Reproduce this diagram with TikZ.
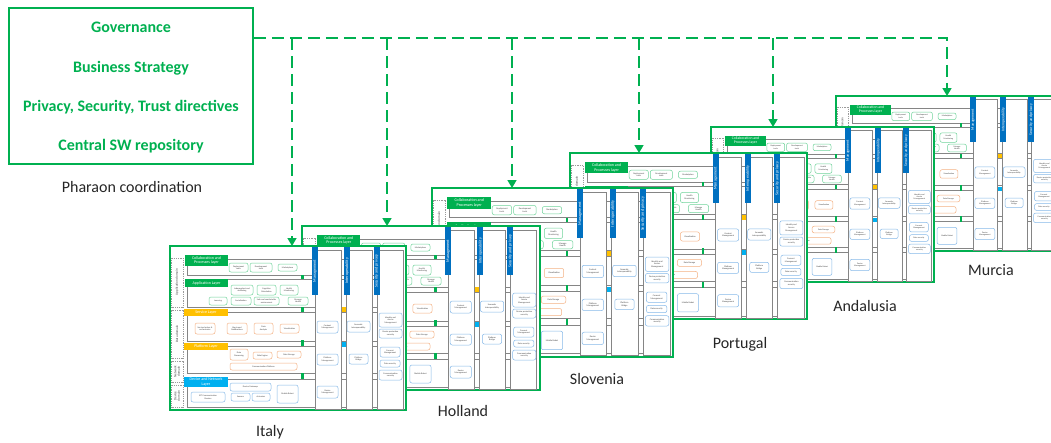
\documentclass[tikz,border=0pt]{standalone}
\usepackage{fontspec}
\setmainfont{Carlito}
\usetikzlibrary{arrows.meta}

\definecolor{pgreen}{HTML}{00B050}
\definecolor{tagorange}{HTML}{FFC000}
\definecolor{tagblue}{HTML}{00B0F0}
\definecolor{barblue}{HTML}{0070C0}
\definecolor{pillgreen}{HTML}{6FD39A}
\definecolor{pillorange}{HTML}{F4B183}
\definecolor{pillblue}{HTML}{86B9E8}
\definecolor{rowgrey}{HTML}{858585}
\definecolor{dashgrey}{HTML}{9A9A9A}
\definecolor{txtgrey}{HTML}{404040}
\definecolor{captxt}{HTML}{262626}

% box given by its two corners: style, name, x1, y1, x2, y2, text
\newcommand{\pn}[7]{\node[#1,minimum width={(#5-#3)*1pt},minimum height={(#6-#4)*1pt}] (#2) at ({(#3+#5)/2},{(#4+#6)/2}) {#7};}

\tikzset{
  panelframe/.style={draw=pgreen, line width=1.6pt, fill=white, inner sep=0pt, outer sep=0pt},
  dombox/.style={draw=dashgrey, dash pattern=on 1pt off 0.8pt, line width=0.35pt, inner sep=0pt},
  domlabel/.style={font=\fontsize{3.3}{3.7}\selectfont, text=txtgrey, align=center, inner sep=0pt},
  layerbox/.style={draw=rowgrey, line width=0.8pt, fill=white, inner sep=0pt},
  tag/.style={inner sep=0pt, align=center, text=white, font=\fontsize{4}{4.5}\selectfont},
  gtag/.style={tag, fill=pgreen},
  otag/.style={tag, fill=tagorange},
  btag/.style={tag, fill=tagblue},
  colbox/.style={draw=rowgrey, line width=0.8pt, fill=white, inner sep=0pt},
  colbar/.style={fill=barblue, inner sep=0pt},
  bartext/.style={font=\fontsize{4.1}{4.5}\selectfont, text=white, inner sep=0pt},
  pill/.style={rounded corners=2pt, line width=0.5pt, inner sep=0pt, align=center, fill=white, text=txtgrey, font=\fontsize{2.2}{2.5}\selectfont},
  gpill/.style={pill, draw=pillgreen},
  opill/.style={pill, draw=pillorange},
  bpill/.style={pill, draw=pillblue},
  gtick/.style={fill=pgreen, inner sep=0pt},
  omark/.style={fill=tagorange, inner sep=0pt},
  bmark/.style={fill=tagblue, inner sep=0pt},
  coordbox/.style={draw=pgreen, line width=1.6pt, inner sep=0pt},
  headline/.style={text=pgreen, font=\fontsize{16}{19}\selectfont\bfseries, inner sep=0pt},
  caption/.style={text=captxt, font=\fontsize{16}{19}\selectfont, inner sep=0pt},
  busline/.style={draw=pgreen, line width=1.6pt, dash pattern=on 12pt off 6pt},
  busarrow/.style={busline, -{Triangle[width=9pt,length=8pt]}},
  % one site architecture: domains, layers and cross-cutting columns
  pics/panel/.style={code={
    \pn{panelframe}{-frame}{0}{0}{236}{164}{}
    % domains on the left
    \pn{dombox}{-d1}{1.5}{12}{13}{61}{}
    \pn{dombox}{-d2}{1.5}{64}{13}{112}{}
    \pn{dombox}{-d3}{1.5}{115}{13}{136}{}
    \pn{dombox}{-d4}{1.5}{139}{13}{161}{}
    \node[domlabel,rotate=90] (-dl1) at (7,36) {Application domain};
    \node[domlabel,rotate=90] (-dl2) at (7,88) {Data domain};
    \node[domlabel,rotate=90] (-dl3) at (7,125.5) {Network\\domain};
    \node[domlabel,rotate=90] (-dl4) at (7,150) {Device\\domain};
    % layers
    \pn{layerbox}{-r1}{17}{13}{232}{29}{}
    \pn{layerbox}{-r2}{17}{33}{232}{61}{}
    \pn{layerbox}{-r3}{17}{66}{232}{95}{}
    \pn{layerbox}{-r4}{17}{100}{232}{127}{}
    \pn{layerbox}{-r5}{17}{133}{232}{161}{}
    \pn{gtag}{-t1}{15}{9}{58}{20}{Collaboration and\\Processes layer}
    \pn{gtag}{-t2}{15}{33}{58}{41}{Application Layer}
    \pn{otag}{-t3}{14}{63}{58}{70}{Service Layer}
    \pn{otag}{-t4}{14}{97}{58}{104}{Platform Layer}
    \pn{btag}{-t5}{14}{131}{58}{141}{Device and Network\\Layer}
    % collaboration and processes
    \pn{gpill}{-a1}{59}{17}{78}{26}{Deployment\\tools}
    \pn{gpill}{-a2}{80}{17}{102}{26}{Development\\tools}
    \pn{gpill}{-a3}{108}{18}{127}{25}{Marketplace}
    % application
    \pn{gpill}{-b1}{61}{39}{83}{49}{Independent and\\wellbeing}
    \pn{gpill}{-b2}{87}{39}{106}{49}{Cognitive\\Stimulation}
    \pn{gpill}{-b3}{110}{39}{128}{49}{Health\\Monitoring}
    \pn{gpill}{-b4}{39}{51}{57}{59}{Learning}
    \pn{gpill}{-b5}{61}{51}{81}{59}{Socialization}
    \pn{gpill}{-b6}{84}{51}{109}{59}{Safe and comfortable\\environment}
    \pn{gpill}{-b7}{118}{51}{138}{59}{Manage\\Health}
    % service
    \pn{opill}{-s1}{25}{77}{45}{88}{Service broker \&\\orchestrator}
    \pn{opill}{-s2}{57}{77}{77}{88}{Alerts and\\Notifications}
    \pn{opill}{-s3}{84}{77}{103}{88}{Data\\Analysis}
    \pn{opill}{-s4}{110}{78}{129}{87}{Visualization}
    % platform
    \pn{opill}{-p1}{60}{103}{78}{114}{Data\\Processing}
    \pn{opill}{-p2}{83}{106}{102}{113}{Rule Engine}
    \pn{opill}{-p3}{107}{105}{131}{112}{Data Storage}
    \pn{opill}{-p4}{60}{117}{127}{124}{Communication Platform}
    % device and network
    \pn{bpill}{-n1}{60}{137}{101}{145}{Device Gateways}
    \pn{bpill}{-n2}{107}{139}{128}{157}{Mobile Robot}
    \pn{bpill}{-n3}{21}{146}{55}{156}{IOT Communication\\Devices}
    \pn{bpill}{-n4}{61}{147}{80}{155}{Sensors}
    \pn{bpill}{-n5}{82}{147}{100}{155}{Actuators}
    % links between layers
    \pn{gtick}{-g1}{131}{29}{133.5}{33}{}
    \pn{gtick}{-g2}{131}{61}{133.5}{66}{}
    \pn{gtick}{-g3}{131}{94}{133.5}{100}{}
    \pn{gtick}{-g4}{131}{127}{133.5}{133}{}
    \pn{omark}{-m1}{171.5}{61}{175.5}{66}{}
    \pn{bmark}{-m2}{171.5}{96}{175.5}{101}{}
    % cross-cutting columns
    \pn{colbox}{-c1}{145}{4}{171}{163}{}
    \pn{colbox}{-c2}{176}{4}{202}{163}{}
    \pn{colbox}{-c3}{207}{4}{233}{163}{}
    \pn{colbar}{-h1}{142}{1}{148}{49}{}
    \pn{colbar}{-h2}{174}{1}{180}{49}{}
    \pn{colbar}{-h3}{203.5}{1}{209.5}{49}{}
    \node[bartext,rotate=90] (-ht1) at (145,25) {Management};
    \node[bartext,rotate=90] (-ht2) at (177,25) {Interoperability};
    \node[bartext,rotate=90] (-ht3) at (206.5,25) {Security and privacy};
    \pn{bpill}{-k1}{147}{75}{168}{87}{Content\\Management}
    \pn{bpill}{-k2}{147}{108}{168}{119}{Platform\\Management}
    \pn{bpill}{-k3}{147}{140}{168}{152}{Device\\Management}
    \pn{bpill}{-k4}{177}{75}{200}{86}{Semantic\\Interoperability}
    \pn{bpill}{-k5}{179}{108}{198}{118}{Platform\\Bridge}
    \pn{bpill}{-k6}{209}{67}{232}{81}{Identity and\\Access\\Management}
    \pn{bpill}{-k7}{209}{83}{232}{92}{Device protection\\security}
    \pn{bpill}{-k8}{210}{101}{230}{111}{Consent\\Management}
    \pn{bpill}{-k9}{210}{114}{230}{121}{Data security}
    \pn{bpill}{-k10}{209}{124}{232}{134}{Communication\\security}
  }}
}

\begin{document}
\begin{tikzpicture}[x=1pt,y=-1pt]
\useasboundingbox (0,0) rectangle (1051,442);
\clip (0,0) rectangle (1051,442);

% central coordination
\pn{coordbox}{hub}{9}{8}{253}{164}{}
\node[headline] (gov) at (131,27) {Governance};
\node[headline] (biz) at (131,68) {Business Strategy};
\node[headline] (pst) at (131,107) {Privacy, Security, Trust directives};
\node[headline] (repo) at (131,146) {Central SW repository};
\node[caption] (hubcap) at (132,187) {Pharaon coordination};

% site architectures, back to front
\pic[scale=0.945,transform shape] (murcia) at (836,96) {panel};
\pic[scale=0.945,transform shape] (andalusia) at (711,127) {panel};
\pic[xscale=1.004,yscale=1.012,transform shape] (portugal) at (570,153) {panel};
\pic[xscale=1.021,yscale=1.03,transform shape] (slovenia) at (432,188) {panel};
\pic[xscale=1.008,transform shape] (holland) at (302,226) {panel};
\pic[transform shape] (italy) at (170,246) {panel};

\node[caption] (lmurcia) at (991,270) {Murcia};
\node[caption] (landalusia) at (865,306) {Andalusia};
\node[caption] (lportugal) at (740,344) {Portugal};
\node[caption] (lslovenia) at (597,379) {Slovenia};
\node[caption] (lholland) at (463,411) {Holland};
\node[caption] (litaly) at (270,432) {Italy};

% distribution line
\coordinate (ji) at (292,38);
\coordinate (jh) at (387,38);
\coordinate (js) at (512,38);
\coordinate (jp) at (639,38);
\coordinate (ja) at (773,38);
\coordinate (jm) at (947,38);
\draw[busarrow] (hub.east |- jm) -- (jm) -- (jm |- murcia-frame.north);
\draw[busarrow] (ji) -- (ji |- italy-frame.north);
\draw[busarrow] (jh) -- (jh |- holland-frame.north);
\draw[busarrow] (js) -- (js |- slovenia-frame.north);
\draw[busarrow] (jp) -- (jp |- portugal-frame.north);
\draw[busarrow] (ja) -- (ja |- andalusia-frame.north);
\end{tikzpicture}
\end{document}
